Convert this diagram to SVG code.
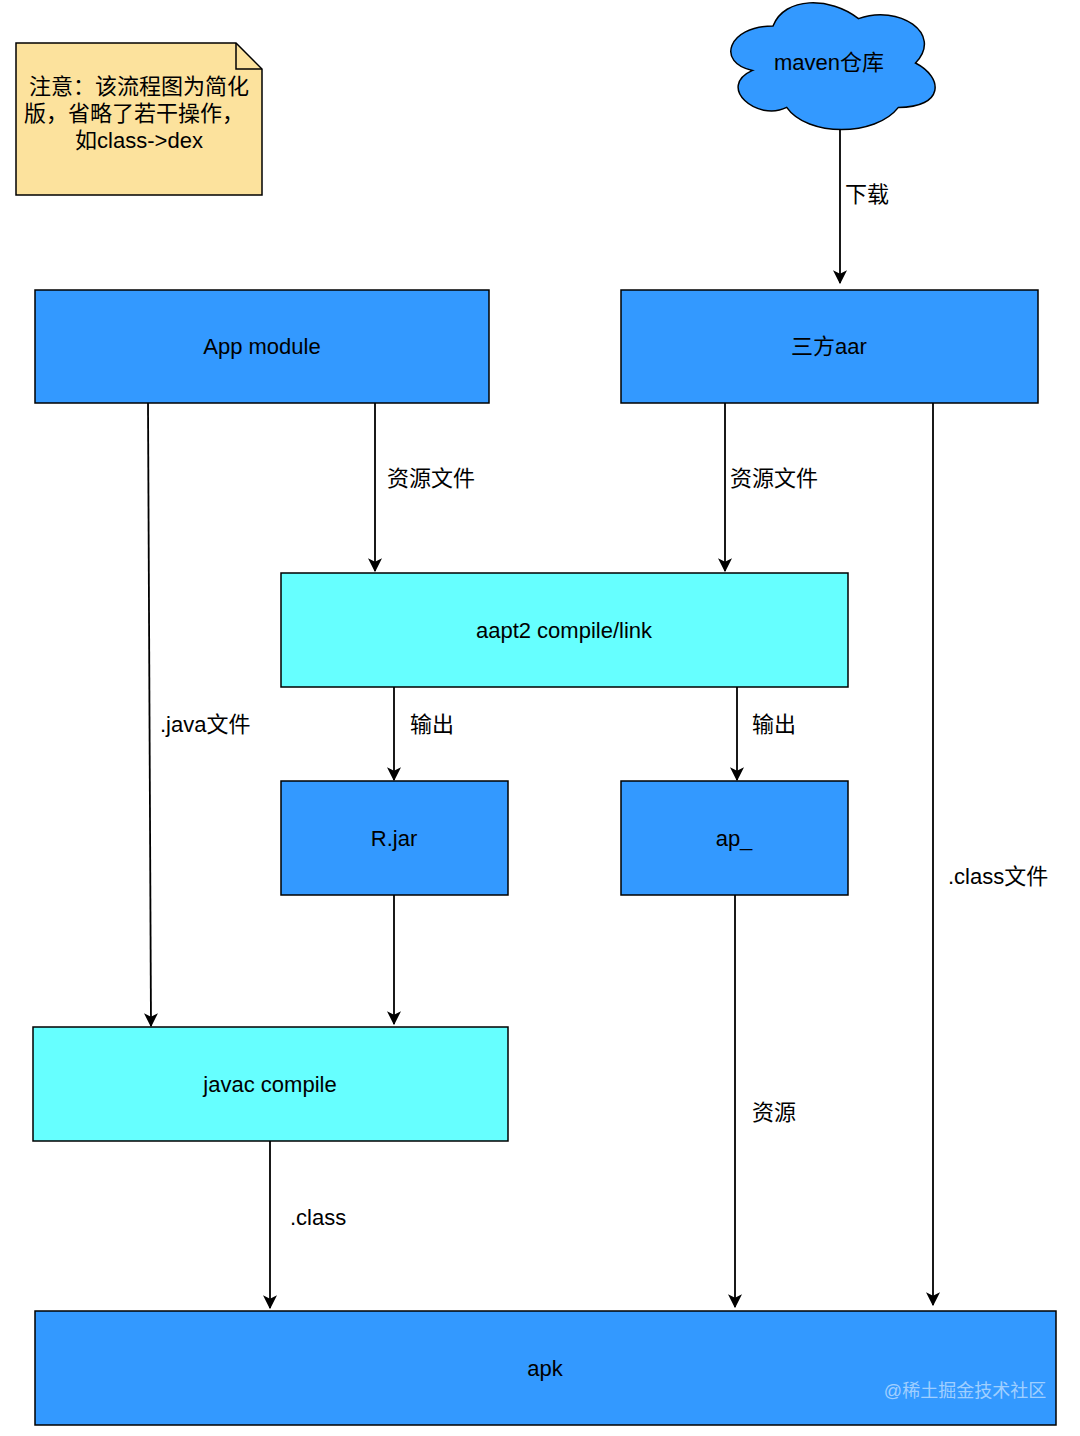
<svg xmlns="http://www.w3.org/2000/svg" width="1080" height="1436" viewBox="0 0 1080 1436">
<style>
text{font-family:"Liberation Sans","Noto Sans CJK SC",sans-serif;font-size:22px;fill:#000;text-anchor:middle;dominant-baseline:central}
.blue{fill:#3399FF;stroke:#000;stroke-width:1.5}
.cyan{fill:#66FFFF;stroke:#000;stroke-width:1.5}
.edge{fill:none;stroke:#000;stroke-width:1.8}
.lbl{text-anchor:start}
</style>
<defs>
<marker id="arr" viewBox="0 0 12 12" refX="11" refY="6" markerWidth="14" markerHeight="14" markerUnits="userSpaceOnUse" orient="auto">
<path d="M0,0 L12,6 L0,12 L3,6 Z" fill="#000"/>
</marker>
</defs>
<rect width="1080" height="1436" fill="#fff"/>
<g id="note">
<path d="M16,43 H236 L262,69 V195 H16 Z" fill="#FCE29D" stroke="#000" stroke-width="1.5"/>
<path d="M236,43 V69 H262" fill="none" stroke="#000" stroke-width="1.5"/>
<text x="139" y="86">注意：该流程图为简化</text>
<text x="134" y="113">版，省略了若干操作，</text>
<text x="139" y="140">如class-&gt;dex</text>
</g>
<g id="maven">
<path class="blue" d="M773,26 C727.4,26 716,63 752.5,70.4 C716,86.7 757,122.2 786.7,107.4 C807.2,137 875.6,137 898.4,107.4 C944,107.4 944,77.8 915.5,63 C944,33.4 898.4,3.8 858.5,18.6 C830,-3.6 784.4,-3.6 773,26 Z"/>
<text x="829" y="62">maven仓库</text>
</g>
<g id="app">
<rect class="blue" x="35" y="290" width="454" height="113"/>
<text x="262" y="346">App module</text>
</g>
<g id="aar">
<rect class="blue" x="621" y="290" width="417" height="113"/>
<text x="829" y="346">三方aar</text>
</g>
<g id="aapt2">
<rect class="cyan" x="281" y="573" width="567" height="114"/>
<text x="564" y="630">aapt2 compile/link</text>
</g>
<g id="rjar">
<rect class="blue" x="281" y="781" width="227" height="114"/>
<text x="394" y="838">R.jar</text>
</g>
<g id="ap">
<rect class="blue" x="621" y="781" width="227" height="114"/>
<text x="734" y="838">ap_</text>
</g>
<g id="javac">
<rect class="cyan" x="33" y="1027" width="475" height="114"/>
<text x="270" y="1084">javac compile</text>
</g>
<g id="apk">
<rect class="blue" x="35" y="1311" width="1021" height="114"/>
<text x="545" y="1368">apk</text>
<text x="965" y="1391" style="font-size:18px;fill:#ffffff;fill-opacity:0.55">@稀土掘金技术社区</text>
</g>
<g id="connectors">
<path class="edge" d="M840,130 V283" marker-end="url(#arr)"/>
<path class="edge" d="M375,403 V571" marker-end="url(#arr)"/>
<path class="edge" d="M725,403 V571" marker-end="url(#arr)"/>
<path class="edge" d="M148,403 L151,1026" marker-end="url(#arr)"/>
<path class="edge" d="M394,687 V780" marker-end="url(#arr)"/>
<path class="edge" d="M737,687 V780" marker-end="url(#arr)"/>
<path class="edge" d="M394,895 V1024" marker-end="url(#arr)"/>
<path class="edge" d="M735,895 V1307" marker-end="url(#arr)"/>
<path class="edge" d="M933,403 V1305" marker-end="url(#arr)"/>
<path class="edge" d="M270,1141 V1308" marker-end="url(#arr)"/>
<text class="lbl" x="845" y="194">下载</text>
<text class="lbl" x="387" y="478">资源文件</text>
<text class="lbl" x="730" y="478">资源文件</text>
<text class="lbl" x="160" y="724">.java文件</text>
<text class="lbl" x="410" y="724">输出</text>
<text class="lbl" x="752" y="724">输出</text>
<text class="lbl" x="752" y="1112">资源</text>
<text class="lbl" x="948" y="876">.class文件</text>
<text class="lbl" x="290" y="1217">.class</text>
</g>
</svg>
